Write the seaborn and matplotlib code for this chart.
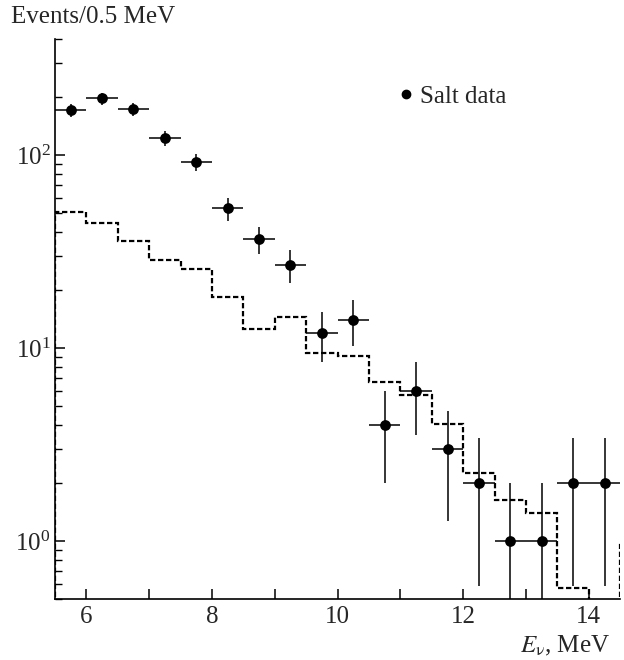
import numpy as np
import matplotlib
matplotlib.use("Agg")
import matplotlib.pyplot as plt
import seaborn as sns
from matplotlib.ticker import FixedLocator, FuncFormatter, LogLocator, NullFormatter, LogFormatterMathtext

# ---- data ----
energy = [5.75, 6.25, 6.75, 7.25, 7.75, 8.25, 8.75, 9.25, 9.75, 10.25,
          10.75, 11.25, 11.75, 12.25, 12.75, 13.25, 13.75, 14.25]
events = [171, 197, 173, 123, 92, 53, 36.6, 27, 12.0, 14.0,
          4.0, 6.0, 3.0, 2.0, 1.0, 1.0, 2.0, 2.0]
event_err = [13.1, 14.0, 13.2, 11.1, 9.6, 7.3, 6.0, 5.2, 3.46, 3.74,
             2.0, 2.45, 1.73, 1.41, 1.0, 1.0, 1.41, 1.41]
bin_halfwidth = 0.25
mc_edges = [5.5, 6.0, 6.5, 7.0, 7.5, 8.0, 8.5, 9.0, 9.5, 10.0,
            10.5, 11.0, 11.5, 12.0, 12.5, 13.0, 13.5, 14.0, 14.5, 15.0]
mc_values = [51, 44.7, 36, 28.8, 25.7, 18.4, 12.6, 14.6, 9.4, 9.1,
             6.67, 5.73, 4.03, 2.26, 1.63, 1.40, 0.57, 0, 0.96]
x_major = [6, 7, 8, 9, 10, 11, 12, 13, 14]
x_labels = {6: "6", 8: "8", 10: "10", 12: "12", 14: "14"}

# ---- style ----
sns.set_style("ticks")
plt.rcParams["font.family"] = ["Liberation Serif", "DejaVu Serif"]
plt.rcParams["mathtext.fontset"] = "stix"
plt.rcParams["font.size"] = 18

fig = plt.figure(figsize=(6.24, 6.6), dpi=100)
ax = fig.add_axes([0.088, 0.0917, 0.906, 0.8493])

ax.set_yscale("log")

# dashed MC histogram
vals = np.clip(np.array(mc_values, dtype=float), 1e-3, None)
ax.stairs(vals, mc_edges, baseline=1e-3, color="black", linestyle=(0, (2.4, 1.2)),
          linewidth=1.6, zorder=2)

# data points with error bars
err = np.array(event_err)
low = np.minimum(err, np.array(events) * 0.9999)
ax.errorbar(energy, events, yerr=[low, err], xerr=bin_halfwidth, fmt="none",
            ecolor="black", elinewidth=1.1, capsize=0, zorder=3)
sns.scatterplot(x=energy, y=events, ax=ax, color="black", s=60, edgecolor="black",
                linewidth=0, zorder=4, legend=False)

ax.set_xlim(5.5, 14.5)
ax.set_ylim(0.5, 400)

# ticks
ax.xaxis.set_major_locator(FixedLocator(x_major))
ax.xaxis.set_major_formatter(FuncFormatter(lambda v, p: x_labels.get(int(round(v)), "")))
ax.yaxis.set_major_locator(LogLocator(base=10, numticks=10))
ax.yaxis.set_major_formatter(LogFormatterMathtext())
ax.yaxis.set_minor_locator(LogLocator(base=10, subs=np.arange(2, 10), numticks=20))
ax.yaxis.set_minor_formatter(NullFormatter())
ax.tick_params(axis="both", which="major", direction="in", length=7, width=1.1,
               labelsize=18, color="black")
ax.tick_params(axis="y", which="major", pad=3)
ax.tick_params(axis="x", which="major", pad=5)
ax.tick_params(axis="y", which="minor", direction="in", length=5, width=1.0, color="black")
ax.tick_params(axis="x", which="minor", length=0)

for s in ["top", "right"]:
    ax.spines[s].set_visible(False)
for s in ["left", "bottom"]:
    ax.spines[s].set_linewidth(1.2)
    ax.spines[s].set_color("black")

# labels
fig.text(0.018, 0.974, "Events/0.5 MeV", fontsize=18, ha="left", va="center")
fig.text(0.978, 0.022, r"$E_{\mathrm{\nu}}$, MeV", fontsize=18, ha="right", va="center")

# legend
ax.plot([], [], "o", color="black", markersize=6, label="Salt data")
ax.legend(loc="center left", bbox_to_anchor=(0.608, 0.897), frameon=False,
          handletextpad=0.25, handlelength=0.6, fontsize=18, borderaxespad=0,
          borderpad=0)

fig.savefig("out.png", dpi=100)
